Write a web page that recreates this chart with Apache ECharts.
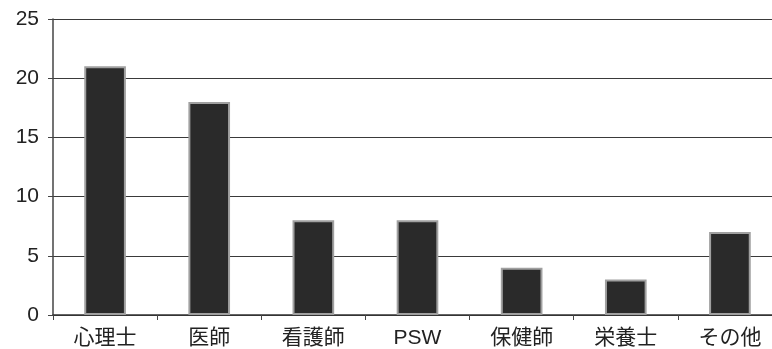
<!DOCTYPE html>
<html>
<head>
<meta charset="utf-8">
<script src="https://cdn.jsdelivr.net/npm/echarts@6/dist/echarts.min.js"></script>
<style>
  html, body { margin: 0; padding: 0; background: #fff; overflow: hidden; }
  /* the plot area runs a little past the right edge of the page */
  #chart { width: 782px; height: 349px; }
</style>
</head>
<body>
<div id="chart"></div>
<script>
// 職種別の人数
const categories = ['心理士', '医師', '看護師', 'PSW', '保健師', '栄養士', 'その他'];
const counts = [21, 18, 8, 8, 4, 3, 7];
const yTicks = { min: 0, max: 25, interval: 5 };

const chart = echarts.init(document.getElementById('chart'), null, { renderer: 'canvas' });

chart.setOption({
  animation: false,
  backgroundColor: '#ffffff',
  grid: { left: 53, right: 0, top: 19, bottom: 34, containLabel: false },
  xAxis: {
    type: 'category',
    data: categories,
    boundaryGap: true,
    axisLine: { show: true, lineStyle: { color: '#333', width: 1.5 } },
    axisTick: { show: true, length: 5, inside: false, lineStyle: { color: '#444' } },
    axisLabel: {
      color: '#222',
      fontSize: 21,
      margin: 13,
      fontFamily: '"Liberation Sans", "Noto Sans CJK JP", sans-serif'
    },
    splitLine: { show: false }
  },
  yAxis: {
    type: 'value',
    min: yTicks.min,
    max: yTicks.max,
    interval: yTicks.interval,
    axisLine: { show: true, lineStyle: { color: '#444', width: 1.5 } },
    axisTick: { show: true, length: 5, lineStyle: { color: '#444' } },
    axisLabel: {
      color: '#222',
      fontSize: 21,
      margin: 14,
      fontFamily: '"Liberation Sans", Arial, sans-serif'
    },
    splitLine: { show: true, lineStyle: { color: '#3a3a3a', width: 1.2 } }
  },
  series: [{
    type: 'bar',
    data: counts,
    barWidth: '40%',
    itemStyle: {
      color: '#2a2a2a',
      borderColor: '#a0a0a0',
      borderWidth: 2
    }
  }]
});
</script>
</body>
</html>
